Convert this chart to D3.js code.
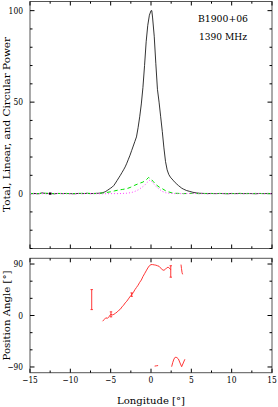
<!DOCTYPE html>
<html><head><meta charset="utf-8">
<script src="https://cdn.jsdelivr.net/npm/d3@7"></script>
<style>body{margin:0;background:#fff}svg{display:block}text{font-family:"DejaVu Serif",serif;fill:#000}</style>
</head><body><svg id="c" width="278" height="407"></svg>
<script>
// ---- data ----
const profLon = [-15,-14.5,-14,-13.5,-13,-12.5,-12,-11.5,-11,-10.5,-10,-9.5,-9,-8.5,-8,-7.5,-7,-6.5,-6.2,-6.0,-5.8,-5.6,-5.4,-5.2,-5.0,-4.8,-4.6,-4.4,-4.2,-4.0,-3.8,-3.6,-3.4,-3.2,-3.0,-2.8,-2.6,-2.4,-2.2,-2.0,-1.8,-1.6,-1.4,-1.2,-1.0,-0.8,-0.6,-0.4,-0.2,0.0,0.1,0.2,0.4,0.6,0.8,1.0,1.2,1.4,1.6,1.8,2.0,2.2,2.4,2.6,2.8,3.0,3.2,3.4,3.6,3.8,4.0,4.4,4.8,5.2,5.6,6.0,6.5,7,7.5,8,8.5,9,9.5,10,10.5,11,11.5,12,12.5,13,13.5,14,14.5,15];
const totalI = [0,0.1,-0.1,0.4,0,0.1,-0.1,0.1,0,0.1,0,-0.1,0.1,0,0.1,0,0.1,0.2,0.3,0.5,0.8,1.2,1.8,2.4,3.0,3.6,4.5,5.8,7.2,8.6,10,11.5,13,14.6,16.6,18.8,21,23.5,26,28.5,31,36,42,49,58,70,83,92,97.5,100,100,96,86,71,57,50,42,34,25,17.5,13,10.5,9,8,7,6,5.2,4.4,3.7,3,2.5,1.7,1.2,0.7,0.4,0.2,0.1,0,0.1,0,0.1,0,-0.1,0.1,0,0.1,0,0.1,0,-0.1,0.1,0,0.1,0];
const linLon = [-15,-14,-13,-12,-11,-10,-9,-8,-7,-6,-5.5,-5,-4.5,-4,-3.5,-3,-2.5,-2,-1.5,-1,-0.6,-0.3,0,0.3,0.6,1,1.4,1.8,2.2,2.6,3,3.5,4,5,6,7,8,9,10,11,12,13,14,15];
const linL = [0.1,0,0.2,0,0.1,0,0.1,0.2,0,0.3,0.6,1.0,1.5,2.0,2.3,2.7,3.5,4.6,5.5,6.3,7.5,8.8,8.0,6.5,5.0,3.6,2.7,1.6,0.9,0.4,0.2,0.1,0,0.1,0,0.1,0,0.1,0,0.1,0,0.1,0,0];
const circLon = [-15,-14,-13,-12,-11,-10,-9,-8,-7,-6,-5,-4,-3,-2.4,-2,-1.6,-1.2,-0.8,-0.5,-0.2,0,0.3,0.6,1.0,1.4,1.8,2.2,3,4,5,6,7,8,9,10,11,12,13,14,15];
const circV = [0,-0.1,0,0.1,0,-0.1,0,0.1,0,-0.1,0,0,0.2,0.6,1.2,2.0,3.2,4.5,6.0,7.2,7.0,5.5,4.0,2.5,1.2,0.5,0.2,0,0,0.1,0,-0.1,0,0.1,0,-0.1,0,0.1,0,0];
// position angle: null separates line pieces
const paLon = [-6.0,-5.8,-5.6,-5.4,-5.2,-5.0,-4.8,-4.6,-4.4,-4.2,-4.0,-3.8,-3.6,-3.4,-3.2,-3.0,-2.8,-2.6,-2.4,-2.2,-2.0,-1.8,-1.6,-1.4,-1.2,-1.0,-0.8,-0.6,-0.4,-0.2,0.0,0.2,0.4,0.6,0.8,1.0,1.2,1.4,1.6,1.8,2.0,2.2,2.45,null,
  3.72,3.78,3.85,3.92,null,
  0.45,0.65,0.88,null,
  2.56,2.7,2.85,3.0,3.2,3.4,3.6,3.8,4.0,4.2];
const paVal = [-10,-7,-4,-5,-2,2,1,2,4,6,9,11,15,18,22,25,29,33,36,40,45,49,53,58,62,68,73,78,83,87,89,89,88.5,88,87,86,83,80,79,81,84,84,80,null,
  89,82,75,72,null,
  -88.5,-88,-87.5,null,
  -89.5,-82,-76,-73,-73.5,-76,-83,-89.5,-83,-76.5];
const errLon = [-7.35,-4.96,-2.4,2.45];
const errPA  = [27.8,2,36.5,77];
const errSig = [17.5,4.4,3,10];
const source = "B1900+06", freq = "1390 MHz";

// ---- layout ----
const svg = d3.select("#c");
const x = d3.scaleLinear([-15,15],[30,272]);
const yT = d3.scaleLinear([-30,105],[248.5,1.5]);
const yB = d3.scaleLinear([-100,100],[372.7,258.3]);
const fmt = v => v<0 ? "\u2212"+(-v) : String(v);
const tw = s => (s.replace("\u2212","").length*4.8 + (s.includes("\u2212")?6:0));

function frame(y, yMaj, yMin, showX){
  const g = svg.append("g").attr("stroke","#000").attr("stroke-width",1).attr("fill","none");
  const [x0,x1] = x.range(), [yb,yt] = y.range();
  g.append("rect").attr("x",x0).attr("y",yt).attr("width",x1-x0).attr("height",yb-yt).attr("stroke","#555");
  const xt = d3.range(-15,15.01,2.5);
  xt.forEach(v=>{ const L = (Math.abs(v%5)<1e-6)?4:2.2;
    g.append("line").attr("x1",x(v)).attr("x2",x(v)).attr("y1",yb).attr("y2",yb-L);
    g.append("line").attr("x1",x(v)).attr("x2",x(v)).attr("y1",yt).attr("y2",yt+L);});
  const [d0,d1] = y.domain();
  d3.range(Math.ceil(d0/yMin)*yMin, d1+1e-6, yMin).forEach(v=>{
    const maj = Math.abs(v%yMaj)<1e-6, L = maj?4.5:2.5;
    g.append("line").attr("x1",x0).attr("x2",x0+L).attr("y1",y(v)).attr("y2",y(v));
    g.append("line").attr("x1",x1).attr("x2",x1-L).attr("y1",y(v)).attr("y2",y(v));
    if(maj){ const s=fmt(v); svg.append("text").attr("x",23).attr("y",y(v)+3).attr("text-anchor","end")
      .attr("font-size",8.8).attr("textLength",tw(s)).attr("lengthAdjust","spacingAndGlyphs").text(s);}
  });
  if(showX) xt.filter(v=>Math.abs(v%5)<1e-6).forEach(v=>{ const s=fmt(v);
    svg.append("text").attr("x",x(v)).attr("y",383).attr("text-anchor","middle")
      .attr("font-size",8.8).attr("textLength",tw(s)).attr("lengthAdjust","spacingAndGlyphs").text(s);});
}
frame(yT,50,10,false);
frame(yB,90,30,true);

const lineT = (xs,ys)=>d3.line().defined((d,i)=>ys[i]!=null).x((d,i)=>x(xs[i])).y((d,i)=>yT(ys[i]))(xs);
svg.append("path").attr("d",lineT(profLon,totalI)).attr("fill","none").attr("stroke","#000").attr("stroke-width",0.8);
svg.append("path").attr("d",lineT(linLon,linL)).attr("fill","none").attr("stroke","#00e000").attr("stroke-width",1).attr("stroke-dasharray","4,3");
svg.append("path").attr("d",lineT(circLon,circV)).attr("fill","none").attr("stroke","#ff44ff").attr("stroke-width",1).attr("stroke-dasharray","1,2");
svg.append("line").attr("x1",x(-12.5)).attr("x2",x(-12.5)).attr("y1",yT(-0.6)).attr("y2",yT(0.6)).attr("stroke","#000").attr("stroke-width",2.5);

const paLine = d3.line().defined((d,i)=>paVal[i]!=null && paLon[i]!=null).x((d,i)=>x(paLon[i])).y((d,i)=>yB(paVal[i]));
svg.append("path").attr("d",paLine(paLon)).attr("fill","none").attr("stroke","#ff2020").attr("stroke-width",0.9);
const eg = svg.append("g").attr("stroke","#ff2020").attr("stroke-width",0.9);
errLon.forEach((l,i)=>{
  const xx=x(l), a=yB(errPA[i]-errSig[i]), b=yB(errPA[i]+errSig[i]);
  eg.append("line").attr("x1",xx).attr("x2",xx).attr("y1",a).attr("y2",b);
  eg.append("line").attr("x1",xx-1.2).attr("x2",xx+1.2).attr("y1",a).attr("y2",a);
  eg.append("line").attr("x1",xx-1.2).attr("x2",xx+1.2).attr("y1",b).attr("y2",b);
});

const txt = (s,tx,ty,len,rot) => svg.append("text")
  .attr("transform",`translate(${tx},${ty})`+(rot?" rotate(-90)":""))
  .attr("text-anchor",rot||len>60?"middle":"start").attr("font-size",8.8)
  .attr("textLength",len).attr("lengthAdjust","spacingAndGlyphs").text(s);
txt(source,198,22,50,false);
txt(freq,199,40,48,false);
txt("Total, Linear, and Circular Power",10,124.5,175,true);
txt("Position Angle [\u00b0]",10,315.5,90,true);
txt("Longitude [\u00b0]",151,403.5,68,false);
</script></body></html>
